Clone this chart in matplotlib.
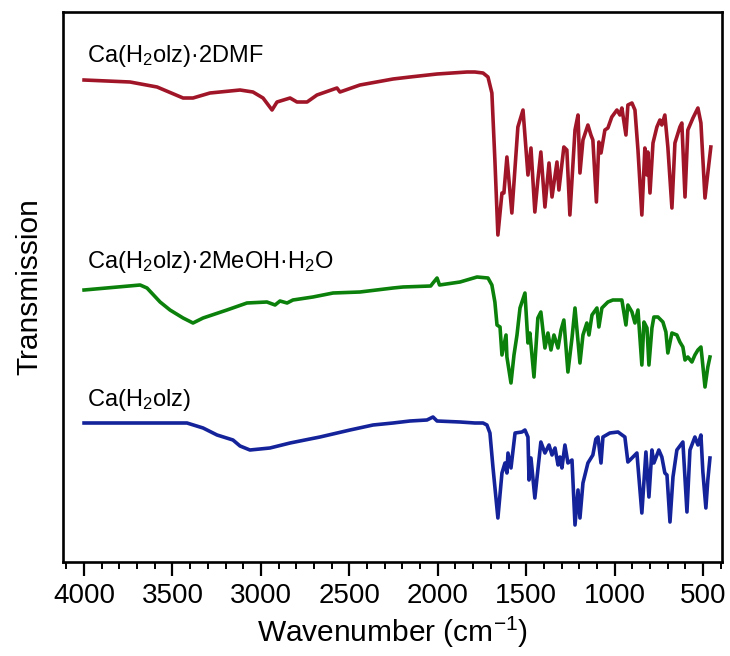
import matplotlib.pyplot as plt

plt.rcParams['font.family'] = ['Liberation Sans', 'DejaVu Sans']
plt.rcParams['mathtext.fontset'] = 'custom'
plt.rcParams['mathtext.rm'] = 'Liberation Sans'

# Espectros IR (numero de onda en cm-1, transmision en unidades arbitrarias, ya desplazadas)
wn_dmf = [4000, 3740, 3587, 3440, 3384, 3288, 3118, 3045, 2988, 2937, 2909, 2835, 2796,
          2739, 2683, 2570, 2553, 2440, 2253, 2157, 2004, 1835, 1790, 1744, 1716, 1694,
          1677, 1660, 1637, 1626, 1609, 1581, 1547, 1518, 1490, 1473, 1451, 1434, 1417,
          1394, 1371, 1354, 1326, 1315, 1287, 1270, 1253, 1224, 1207, 1196, 1179, 1151,
          1134, 1123, 1103, 1089, 1077, 1055, 1038, 1016, 987, 970, 959, 936, 925, 902,
          885, 868, 846, 829, 817, 812, 800, 783, 761, 744, 733, 716, 699, 676, 659, 631,
          620, 602, 586, 557, 529, 512, 506, 489, 473, 456]
t_dmf = [480, 478, 473, 462, 462, 467, 470, 468, 462, 450, 458, 462, 458,
         458, 465, 472, 468, 475, 481, 483, 486, 488, 488, 487, 483, 467,
         400, 325, 367, 367, 403, 347, 433, 450, 385, 412, 348, 380, 408,
         353, 397, 363, 398, 370, 413, 410, 345, 430, 445, 387, 420, 435,
         425, 420, 358, 418, 407, 430, 432, 443, 450, 445, 452, 425, 455, 457,
         450, 410, 345, 412, 385, 408, 367, 417, 433, 440, 435, 445, 413, 352, 417, 433,
         437, 363, 430, 442, 452, 437, 417, 362, 387, 413]

wn_meoh = [4000, 3683, 3644, 3570, 3514, 3440, 3384, 3327, 3192, 3079, 2966, 2920, 2892,
           2852, 2819, 2706, 2592, 2440, 2253, 2197, 2040, 2027, 2004, 1990, 1874, 1778,
           1716, 1694, 1677, 1665, 1648, 1637, 1614, 1609, 1586, 1569, 1552, 1535, 1507,
           1490, 1479, 1456, 1434, 1417, 1394, 1377, 1360, 1343, 1320, 1303, 1287, 1264,
           1241, 1224, 1196, 1179, 1157, 1145, 1128, 1100, 1089, 1072, 1038, 1010, 981,
           959, 936, 925, 902, 885, 868, 846, 834, 817, 806, 789, 778, 755, 727, 710, 699,
           676, 648, 631, 614, 602, 586, 563, 546, 529, 512, 506, 489, 473, 461]
t_meoh = [270, 275, 272, 258, 250, 242, 237, 242, 250, 257, 258, 255, 259,
          257, 260, 263, 267, 268, 272, 273, 274, 277, 282, 275, 278, 283,
          282, 275, 258, 235, 233, 205, 225, 203, 177, 205, 225, 252, 267,
          217, 227, 183, 242, 248, 212, 227, 210, 225, 212, 230, 240, 188,
          222, 252, 197, 225, 237, 225, 245, 252, 233, 252, 258, 260, 260,
          260, 235, 255, 248, 237, 250, 195, 238, 232, 195, 232, 243, 243, 238, 228, 207,
          227, 225, 218, 213, 200, 203, 198, 205, 210, 213, 203, 173, 193, 203]

wn_ca = [4000, 3418, 3327, 3248, 3158, 3118, 3062, 2949, 2835, 2751, 2666, 2496, 2366,
         2253, 2157, 2061, 2027, 2004, 1874, 1790, 1744, 1722, 1705, 1688, 1660, 1637,
         1620, 1609, 1603, 1586, 1563, 1524, 1507, 1490, 1484, 1473, 1451, 1428, 1417,
         1394, 1371, 1354, 1337, 1320, 1309, 1298, 1281, 1264, 1241, 1224, 1207, 1196,
         1179, 1151, 1123, 1106, 1094, 1077, 1066, 1027, 981, 942, 925, 913, 874, 846,
         823, 806, 789, 778, 750, 733, 716, 704, 687, 670, 648, 614, 591, 574, 546, 529,
         512, 501, 484, 473, 461]
t_ca = [137, 137, 132, 125, 120, 114, 110, 112, 117, 120, 123, 130, 135,
        137, 139, 140, 143, 139, 138, 137, 137, 135, 127, 93, 42, 87,
        97, 87, 107, 92, 127, 128, 130, 123, 80, 102, 62, 100, 118,
        107, 115, 105, 112, 95, 103, 92, 115, 97, 100, 35, 70, 42,
        77, 97, 105, 121, 123, 97, 123, 127, 128, 123, 98, 100, 107, 47,
        108, 63, 110, 97, 110, 103, 87, 85, 38, 83, 110, 118, 48, 110, 123, 115,
        125, 88, 52, 80, 102]

etiquetas = [r'Ca(H$\mathregular{_2}$olz)·2DMF',
             r'Ca(H$\mathregular{_2}$olz)·2MeOH·H$\mathregular{_2}$O',
             r'Ca(H$\mathregular{_2}$olz)']
y_etiquetas = [498, 292, 154]
colores = ['#a01628', '#0b800b', '#14239a']

fig = plt.figure(figsize=(7.3, 6.56), dpi=100)
ax = fig.add_axes([0.0863, 0.1433, 0.9027, 0.8384])

series = [(wn_dmf, t_dmf), (wn_meoh, t_meoh), (wn_ca, t_ca)]
for (wn, t), color, texto, y_txt in zip(series, colores, etiquetas, y_etiquetas):
    ax.plot(wn, t, color=color, lw=2.6, solid_joinstyle='round')
    ax.text(3983, y_txt, texto, fontsize=17, ha='left', va='baseline')

ax.set_xlim(4119, 393)
ax.set_ylim(-2, 548)
ax.set_xticks([4000, 3500, 3000, 2500, 2000, 1500, 1000, 500])
ax.set_xticks(range(4100, 399, -100), minor=True)
ax.set_yticks([])
ax.tick_params(axis='x', which='major', direction='out', length=10, width=1.6,
               labelsize=20, pad=5)
ax.tick_params(axis='x', which='minor', direction='out', length=5, width=1.4)
for sp in ax.spines.values():
    sp.set_linewidth(1.9)

ax.set_xlabel(r'Wavenumber (cm$\mathregular{^{-1}}$)', fontsize=21.5, labelpad=4)
ax.set_ylabel('Transmission', fontsize=21.5, labelpad=14)

plt.savefig('out.png', dpi=100)
